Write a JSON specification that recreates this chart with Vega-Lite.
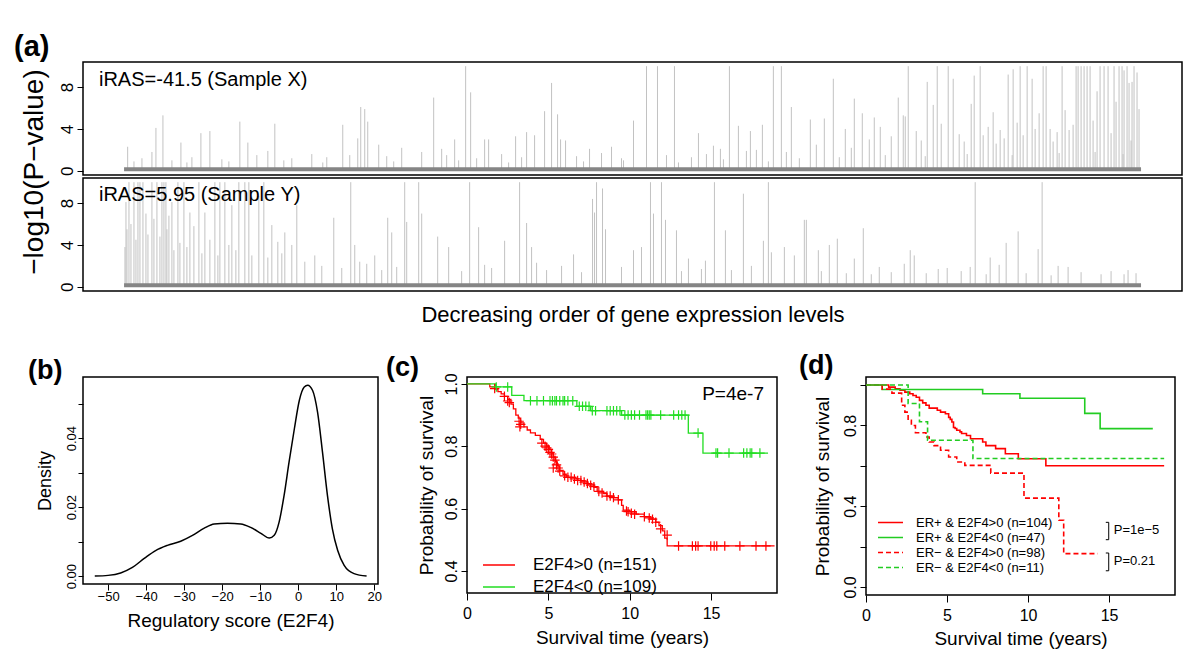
{
"$schema": "https://vega.github.io/schema/vega-lite/v6.json",
"padding": {"left": 13, "top": 32, "right": 0, "bottom": 0},
"bounds": "flush",
"spacing": 3,
"config": {
  "font": "Liberation Sans",
  "view": {"stroke": "#000", "strokeWidth": 1.5},
  "axis": {"domain": false, "grid": false, "tickColor": "#000", "tickWidth": 1, "labelColor": "#000", "titleColor": "#000", "titleFontWeight": "normal", "labelFlush": false, "labelOverlap": false, "labelFont": "Liberation Sans", "titleFont": "Liberation Sans"},
  "legend": {"labelColor": "#000", "labelFont": "Liberation Sans", "labelLimit": 0},
  "title": {"color": "#000", "font": "Liberation Sans"},
  "text": {"font": "Liberation Sans", "color": "#000"}
},
"datasets": {
  "spikesX": [
{"rank":37,"logp":2.3},{"rank":100,"logp":0.9},{"rank":180,"logp":1.2},{"rank":280,"logp":1.8},{"rank":320,"logp":4.1},{"rank":390,"logp":5.3},{"rank":480,"logp":1.0},{"rank":570,"logp":2.7},{"rank":630,"logp":0.8},{"rank":680,"logp":1.3},{"rank":770,"logp":3.6},{"rank":860,"logp":3.8},{"rank":980,"logp":1.1},{"rank":1050,"logp":0.9},{"rank":1160,"logp":4.7},{"rank":1240,"logp":2.7},{"rank":1330,"logp":1.5},{"rank":1440,"logp":1.9},{"rank":1510,"logp":4.5},{"rank":1600,"logp":1.0},{"rank":1680,"logp":1.2},{"rank":1880,"logp":1.6},{"rank":1990,"logp":0.8},{"rank":2030,"logp":1.3},{"rank":2190,"logp":4.4},{"rank":2260,"logp":1.5},{"rank":2340,"logp":3.1},{"rank":2370,"logp":6.1},{"rank":2410,"logp":5.9},{"rank":2440,"logp":4.7},{"rank":2550,"logp":2.5},{"rank":2630,"logp":1.4},{"rank":2700,"logp":0.9},{"rank":2780,"logp":2.2},{"rank":2980,"logp":1.8},{"rank":3100,"logp":7.0},{"rank":3180,"logp":2.1},{"rank":3230,"logp":1.5},{"rank":3310,"logp":3.0},{"rank":3350,"logp":1.0},{"rank":3420,"logp":10},{"rank":3470,"logp":7.5},{"rank":3530,"logp":1.2},{"rank":3610,"logp":3.0},{"rank":3650,"logp":3.0},{"rank":3780,"logp":1.6},{"rank":3850,"logp":0.8},{"rank":3920,"logp":3.3},{"rank":3980,"logp":1.3},{"rank":4030,"logp":3.7},{"rank":4110,"logp":3.4},{"rank":4210,"logp":5.7},{"rank":4280,"logp":8.4},{"rank":4340,"logp":5.4},{"rank":4370,"logp":3.0},{"rank":4420,"logp":2.9},{"rank":4530,"logp":1.4},{"rank":4600,"logp":0.9},{"rank":4660,"logp":2.1},{"rank":4780,"logp":1.7},{"rank":4880,"logp":2.3},{"rank":4980,"logp":1.2},{"rank":5000,"logp":1.0},{"rank":5100,"logp":4.8},{"rank":5230,"logp":10},{"rank":5340,"logp":10},{"rank":5430,"logp":1.5},{"rank":5510,"logp":10},{"rank":5550,"logp":0.8},{"rank":5680,"logp":1.3},{"rank":5750,"logp":3.6},{"rank":5830,"logp":1.6},{"rank":5900,"logp":2.4},{"rank":5970,"logp":2.1},{"rank":6000,"logp":1.1},{"rank":6060,"logp":10},{"rank":6150,"logp":4.3},{"rank":6230,"logp":1.9},{"rank":6270,"logp":3.8},{"rank":6330,"logp":2.0},{"rank":6390,"logp":4.4},{"rank":6450,"logp":0.9},{"rank":6500,"logp":10},{"rank":6580,"logp":10},{"rank":6630,"logp":1.8},{"rank":6680,"logp":6.1},{"rank":6760,"logp":1.2},{"rank":6870,"logp":4.9},{"rank":6930,"logp":2.5},{"rank":7010,"logp":5.0},{"rank":7100,"logp":8.8},{"rank":7160,"logp":1.3},{"rank":7220,"logp":4.0},{"rank":7280,"logp":2.2},{"rank":7310,"logp":6.9},{"rank":7390,"logp":5.5},{"rank":7460,"logp":3.0},{"rank":7510,"logp":5.1},{"rank":7570,"logp":4.2},{"rank":7620,"logp":1.5},{"rank":7680,"logp":3.3},{"rank":7750,"logp":7.0},{"rank":7800,"logp":5.3},{"rank":7820,"logp":5.2},{"rank":7850,"logp":10},{"rank":7930,"logp":3.8},{"rank":7980,"logp":2.9},{"rank":8020,"logp":1.4},{"rank":8040,"logp":8.5},{"rank":8100,"logp":6.3},{"rank":8140,"logp":10},{"rank":8180,"logp":4.5},{"rank":8250,"logp":10},{"rank":8300,"logp":8.8},{"rank":8360,"logp":3.5},{"rank":8410,"logp":2.8},{"rank":8440,"logp":1.6},{"rank":8480,"logp":6.4},{"rank":8510,"logp":9.1},{"rank":8570,"logp":10},{"rank":8600,"logp":3.4},{"rank":8650,"logp":4.2},{"rank":8700,"logp":5.6},{"rank":8730,"logp":2.6},{"rank":8770,"logp":3.9},{"rank":8810,"logp":3.1},{"rank":8850,"logp":9.2},{"rank":8890,"logp":1.5},{"rank":8900,"logp":9.7},{"rank":8940,"logp":4.6},{"rank":8970,"logp":10},{"rank":9000,"logp":3.4},{"rank":9040,"logp":10},{"rank":9090,"logp":8.8},{"rank":9120,"logp":4.0},{"rank":9160,"logp":5.5},{"rank":9200,"logp":10},{"rank":9230,"logp":10},{"rank":9270,"logp":4.0},{"rank":9300,"logp":2.8},{"rank":9340,"logp":3.7},{"rank":9360,"logp":1.7},{"rank":9390,"logp":10},{"rank":9420,"logp":5.8},{"rank":9460,"logp":3.9},{"rank":9500,"logp":4.4},{"rank":9530,"logp":10},{"rank":9550,"logp":10},{"rank":9580,"logp":10},{"rank":9610,"logp":10},{"rank":9640,"logp":10},{"rank":9670,"logp":10},{"rank":9700,"logp":4.8},{"rank":9720,"logp":1.8},{"rank":9740,"logp":7.6},{"rank":9770,"logp":10},{"rank":9810,"logp":10},{"rank":9850,"logp":10},{"rank":9880,"logp":3.6},{"rank":9910,"logp":10},{"rank":9930,"logp":6.6},{"rank":9960,"logp":10},{"rank":9990,"logp":10},{"rank":10000,"logp":1.6},{"rank":10010,"logp":9.6},{"rank":10040,"logp":10},{"rank":10060,"logp":8.4},{"rank":10080,"logp":2.9},{"rank":10090,"logp":8.5},{"rank":10110,"logp":10},{"rank":10140,"logp":9.4},{"rank":10160,"logp":5.9}
  ],
  "spikesY": [
{"rank":10,"logp":3.8},{"rank":20,"logp":8.1},{"rank":30,"logp":5.5},{"rank":50,"logp":10},{"rank":70,"logp":6.0},{"rank":100,"logp":10},{"rank":120,"logp":4.5},{"rank":140,"logp":10},{"rank":160,"logp":10},{"rank":190,"logp":10},{"rank":220,"logp":7.0},{"rank":240,"logp":5.0},{"rank":280,"logp":10},{"rank":300,"logp":6.5},{"rank":330,"logp":10},{"rank":360,"logp":4.8},{"rank":380,"logp":10},{"rank":400,"logp":10},{"rank":420,"logp":10},{"rank":430,"logp":5.5},{"rank":450,"logp":6.8},{"rank":480,"logp":8.1},{"rank":500,"logp":3.5},{"rank":540,"logp":10},{"rank":560,"logp":4.2},{"rank":600,"logp":10},{"rank":630,"logp":3.8},{"rank":660,"logp":7.1},{"rank":700,"logp":5.8},{"rank":750,"logp":10},{"rank":780,"logp":3.2},{"rank":810,"logp":7.1},{"rank":860,"logp":4.5},{"rank":910,"logp":10},{"rank":940,"logp":3.0},{"rank":960,"logp":10},{"rank":1010,"logp":10},{"rank":1050,"logp":4.0},{"rank":1080,"logp":7.8},{"rank":1120,"logp":3.5},{"rank":1150,"logp":10},{"rank":1210,"logp":10},{"rank":1250,"logp":10},{"rank":1280,"logp":3.0},{"rank":1350,"logp":8.7},{"rank":1400,"logp":10},{"rank":1440,"logp":2.8},{"rank":1480,"logp":5.9},{"rank":1540,"logp":4.3},{"rank":1580,"logp":3.2},{"rank":1610,"logp":5.2},{"rank":1680,"logp":4.0},{"rank":1730,"logp":7.8},{"rank":1810,"logp":2.4},{"rank":1910,"logp":3.0},{"rank":1980,"logp":2.0},{"rank":2100,"logp":6.6},{"rank":2180,"logp":1.8},{"rank":2270,"logp":10},{"rank":2310,"logp":4.0},{"rank":2360,"logp":2.4},{"rank":2430,"logp":2.2},{"rank":2510,"logp":3.0},{"rank":2580,"logp":1.6},{"rank":2640,"logp":6.6},{"rank":2680,"logp":5.2},{"rank":2730,"logp":1.9},{"rank":2810,"logp":10},{"rank":2830,"logp":6.2},{"rank":2950,"logp":10},{"rank":2980,"logp":7.0},{"rank":3140,"logp":4.8},{"rank":3250,"logp":3.8},{"rank":3380,"logp":1.5},{"rank":3460,"logp":10},{"rank":3550,"logp":5.7},{"rank":3610,"logp":2.1},{"rank":3680,"logp":1.8},{"rank":3810,"logp":4.4},{"rank":3960,"logp":10},{"rank":4030,"logp":6.1},{"rank":4080,"logp":3.8},{"rank":4130,"logp":2.3},{"rank":4230,"logp":1.6},{"rank":4380,"logp":2.0},{"rank":4500,"logp":3.1},{"rank":4580,"logp":1.4},{"rank":4690,"logp":8.4},{"rank":4710,"logp":7.1},{"rank":4730,"logp":10},{"rank":4790,"logp":9.4},{"rank":4820,"logp":5.5},{"rank":4980,"logp":1.9},{"rank":5100,"logp":3.5},{"rank":5180,"logp":3.8},{"rank":5270,"logp":10},{"rank":5300,"logp":7.0},{"rank":5380,"logp":10},{"rank":5420,"logp":6.4},{"rank":5530,"logp":5.4},{"rank":5580,"logp":1.5},{"rank":5650,"logp":2.7},{"rank":5780,"logp":1.7},{"rank":5820,"logp":2.5},{"rank":5910,"logp":10},{"rank":6020,"logp":5.4},{"rank":6080,"logp":1.6},{"rank":6200,"logp":8.9},{"rank":6280,"logp":2.0},{"rank":6400,"logp":4.4},{"rank":6450,"logp":10},{"rank":6480,"logp":3.3},{"rank":6610,"logp":3.8},{"rank":6710,"logp":3.0},{"rank":6810,"logp":6.4},{"rank":6830,"logp":6.4},{"rank":6950,"logp":3.5},{"rank":6980,"logp":1.5},{"rank":7060,"logp":4.0},{"rank":7140,"logp":4.6},{"rank":7230,"logp":1.3},{"rank":7310,"logp":2.7},{"rank":7400,"logp":5.6},{"rank":7480,"logp":1.2},{"rank":7560,"logp":1.9},{"rank":7680,"logp":1.4},{"rank":7810,"logp":2.2},{"rank":7870,"logp":3.5},{"rank":7910,"logp":3.0},{"rank":8030,"logp":1.3},{"rank":8150,"logp":1.7},{"rank":8240,"logp":1.8},{"rank":8380,"logp":1.5},{"rank":8470,"logp":1.9},{"rank":8520,"logp":10},{"rank":8630,"logp":1.2},{"rank":8670,"logp":2.8},{"rank":8760,"logp":2.1},{"rank":8830,"logp":4.2},{"rank":8950,"logp":5.3},{"rank":9030,"logp":1.3},{"rank":9150,"logp":3.6},{"rank":9190,"logp":10},{"rank":9280,"logp":1.1},{"rank":9350,"logp":2.0},{"rank":9450,"logp":1.9},{"rank":9580,"logp":1.4},{"rank":9780,"logp":1.2},{"rank":9880,"logp":1.5},{"rank":10010,"logp":1.2},{"rank":10050,"logp":1.6},{"rank":10130,"logp":1.3}
  ],
  "density": [
{"score":-53.5,"density":0},{"score":-50,"density":0.0002},{"score":-46.7,"density":0.0009},{"score":-43.6,"density":0.0025},{"score":-40.4,"density":0.0052},{"score":-37.5,"density":0.0074},{"score":-34.4,"density":0.0089},{"score":-30.9,"density":0.0101},{"score":-27.8,"density":0.0118},{"score":-24.7,"density":0.0139},{"score":-22.1,"density":0.0151},{"score":-18.6,"density":0.0153},{"score":-15.1,"density":0.0151},{"score":-12.5,"density":0.0141},{"score":-9.8,"density":0.0124},{"score":-7.6,"density":0.011},{"score":-6.3,"density":0.0118},{"score":-5.0,"density":0.0157},{"score":-3.7,"density":0.0234},{"score":-2.4,"density":0.033},{"score":-1.0,"density":0.0427},{"score":0.3,"density":0.0509},{"score":1.6,"density":0.0548},{"score":2.5,"density":0.0553},{"score":3.8,"density":0.0538},{"score":5.1,"density":0.0475},{"score":6.4,"density":0.0359},{"score":7.7,"density":0.0234},{"score":9.0,"density":0.0137},{"score":10.4,"density":0.0074},{"score":12.1,"density":0.0031},{"score":14.7,"density":0.0007},{"score":18.0,"density":0}
  ],
  "kmC": [
{"g":"E2F4>0 (n=151)","t":0,"s":1},{"g":"E2F4>0 (n=151)","t":1.1,"s":1},{"g":"E2F4>0 (n=151)","t":1.4,"s":0.99},{"g":"E2F4>0 (n=151)","t":1.7,"s":0.983},{"g":"E2F4>0 (n=151)","t":1.9,"s":0.975},{"g":"E2F4>0 (n=151)","t":2.1,"s":0.968},{"g":"E2F4>0 (n=151)","t":2.3,"s":0.96},{"g":"E2F4>0 (n=151)","t":2.5,"s":0.95},{"g":"E2F4>0 (n=151)","t":2.7,"s":0.935},{"g":"E2F4>0 (n=151)","t":2.85,"s":0.92},{"g":"E2F4>0 (n=151)","t":3.0,"s":0.9},{"g":"E2F4>0 (n=151)","t":3.15,"s":0.89},{"g":"E2F4>0 (n=151)","t":3.3,"s":0.875},{"g":"E2F4>0 (n=151)","t":3.5,"s":0.862},{"g":"E2F4>0 (n=151)","t":3.7,"s":0.852},{"g":"E2F4>0 (n=151)","t":3.9,"s":0.843},{"g":"E2F4>0 (n=151)","t":4.2,"s":0.835},{"g":"E2F4>0 (n=151)","t":4.5,"s":0.822},{"g":"E2F4>0 (n=151)","t":4.7,"s":0.81},{"g":"E2F4>0 (n=151)","t":4.9,"s":0.8},{"g":"E2F4>0 (n=151)","t":5.05,"s":0.79},{"g":"E2F4>0 (n=151)","t":5.2,"s":0.778},{"g":"E2F4>0 (n=151)","t":5.3,"s":0.765},{"g":"E2F4>0 (n=151)","t":5.45,"s":0.75},{"g":"E2F4>0 (n=151)","t":5.55,"s":0.737},{"g":"E2F4>0 (n=151)","t":5.7,"s":0.722},{"g":"E2F4>0 (n=151)","t":5.9,"s":0.71},{"g":"E2F4>0 (n=151)","t":6.1,"s":0.7},{"g":"E2F4>0 (n=151)","t":6.7,"s":0.695},{"g":"E2F4>0 (n=151)","t":7.0,"s":0.688},{"g":"E2F4>0 (n=151)","t":7.4,"s":0.678},{"g":"E2F4>0 (n=151)","t":7.8,"s":0.668},{"g":"E2F4>0 (n=151)","t":8.0,"s":0.655},{"g":"E2F4>0 (n=151)","t":8.4,"s":0.648},{"g":"E2F4>0 (n=151)","t":8.6,"s":0.64},{"g":"E2F4>0 (n=151)","t":9.0,"s":0.635},{"g":"E2F4>0 (n=151)","t":9.3,"s":0.628},{"g":"E2F4>0 (n=151)","t":9.5,"s":0.61},{"g":"E2F4>0 (n=151)","t":9.6,"s":0.595},{"g":"E2F4>0 (n=151)","t":10.0,"s":0.59},{"g":"E2F4>0 (n=151)","t":10.4,"s":0.582},{"g":"E2F4>0 (n=151)","t":10.9,"s":0.574},{"g":"E2F4>0 (n=151)","t":11.3,"s":0.566},{"g":"E2F4>0 (n=151)","t":11.6,"s":0.556},{"g":"E2F4>0 (n=151)","t":11.8,"s":0.545},{"g":"E2F4>0 (n=151)","t":12.0,"s":0.528},{"g":"E2F4>0 (n=151)","t":12.15,"s":0.505},{"g":"E2F4>0 (n=151)","t":12.3,"s":0.48},{"g":"E2F4>0 (n=151)","t":18.9,"s":0.48},
{"g":"E2F4<0 (n=109)","t":0,"s":1},{"g":"E2F4<0 (n=109)","t":1.75,"s":0.99},{"g":"E2F4<0 (n=109)","t":2.75,"s":0.963},{"g":"E2F4<0 (n=109)","t":3.5,"s":0.946},{"g":"E2F4<0 (n=109)","t":6.75,"s":0.928},{"g":"E2F4<0 (n=109)","t":7.6,"s":0.914},{"g":"E2F4<0 (n=109)","t":9.5,"s":0.9},{"g":"E2F4<0 (n=109)","t":13.6,"s":0.842},{"g":"E2F4<0 (n=109)","t":14.5,"s":0.778},{"g":"E2F4<0 (n=109)","t":18.5,"s":0.778}
  ],
  "censC": [
{"g":"E2F4>0 (n=151)","t":1.7,"s":0.985},{"g":"E2F4>0 (n=151)","t":2.3,"s":0.96},{"g":"E2F4>0 (n=151)","t":2.5,"s":0.945},{"g":"E2F4>0 (n=151)","t":2.6,"s":0.94},{"g":"E2F4>0 (n=151)","t":3.2,"s":0.88},{"g":"E2F4>0 (n=151)","t":3.3,"s":0.87},{"g":"E2F4>0 (n=151)","t":3.25,"s":0.862},{"g":"E2F4>0 (n=151)","t":4.6,"s":0.81},{"g":"E2F4>0 (n=151)","t":4.8,"s":0.8},{"g":"E2F4>0 (n=151)","t":4.9,"s":0.795},{"g":"E2F4>0 (n=151)","t":5.0,"s":0.79},{"g":"E2F4>0 (n=151)","t":5.1,"s":0.78},{"g":"E2F4>0 (n=151)","t":5.2,"s":0.775},{"g":"E2F4>0 (n=151)","t":5.3,"s":0.765},{"g":"E2F4>0 (n=151)","t":5.4,"s":0.755},{"g":"E2F4>0 (n=151)","t":5.5,"s":0.74},{"g":"E2F4>0 (n=151)","t":5.6,"s":0.73},{"g":"E2F4>0 (n=151)","t":5.7,"s":0.72},{"g":"E2F4>0 (n=151)","t":5.3,"s":0.73},{"g":"E2F4>0 (n=151)","t":6.0,"s":0.705},{"g":"E2F4>0 (n=151)","t":6.2,"s":0.7},{"g":"E2F4>0 (n=151)","t":6.4,"s":0.7},{"g":"E2F4>0 (n=151)","t":6.6,"s":0.695},{"g":"E2F4>0 (n=151)","t":6.8,"s":0.69},{"g":"E2F4>0 (n=151)","t":7.0,"s":0.69},{"g":"E2F4>0 (n=151)","t":7.2,"s":0.685},{"g":"E2F4>0 (n=151)","t":7.4,"s":0.68},{"g":"E2F4>0 (n=151)","t":7.6,"s":0.675},{"g":"E2F4>0 (n=151)","t":7.8,"s":0.67},{"g":"E2F4>0 (n=151)","t":8.1,"s":0.655},{"g":"E2F4>0 (n=151)","t":8.3,"s":0.65},{"g":"E2F4>0 (n=151)","t":8.6,"s":0.64},{"g":"E2F4>0 (n=151)","t":8.8,"s":0.64},{"g":"E2F4>0 (n=151)","t":9.0,"s":0.635},{"g":"E2F4>0 (n=151)","t":9.3,"s":0.628},{"g":"E2F4>0 (n=151)","t":9.8,"s":0.592},{"g":"E2F4>0 (n=151)","t":9.9,"s":0.59},{"g":"E2F4>0 (n=151)","t":10.1,"s":0.585},{"g":"E2F4>0 (n=151)","t":10.3,"s":0.582},{"g":"E2F4>0 (n=151)","t":10.9,"s":0.574},{"g":"E2F4>0 (n=151)","t":11.2,"s":0.57},{"g":"E2F4>0 (n=151)","t":11.4,"s":0.566},{"g":"E2F4>0 (n=151)","t":11.6,"s":0.556},{"g":"E2F4>0 (n=151)","t":11.9,"s":0.535},{"g":"E2F4>0 (n=151)","t":12.3,"s":0.515},{"g":"E2F4>0 (n=151)","t":13.0,"s":0.48},{"g":"E2F4>0 (n=151)","t":13.85,"s":0.48},{"g":"E2F4>0 (n=151)","t":14.05,"s":0.48},{"g":"E2F4>0 (n=151)","t":14.2,"s":0.48},{"g":"E2F4>0 (n=151)","t":14.98,"s":0.48},{"g":"E2F4>0 (n=151)","t":15.19,"s":0.48},{"g":"E2F4>0 (n=151)","t":15.35,"s":0.48},{"g":"E2F4>0 (n=151)","t":15.84,"s":0.48},{"g":"E2F4>0 (n=151)","t":16.77,"s":0.48},{"g":"E2F4>0 (n=151)","t":17.76,"s":0.48},{"g":"E2F4>0 (n=151)","t":18.37,"s":0.48},
{"g":"E2F4<0 (n=109)","t":1.8,"s":0.99},{"g":"E2F4<0 (n=109)","t":2.5,"s":0.99},{"g":"E2F4<0 (n=109)","t":3.9,"s":0.946},{"g":"E2F4<0 (n=109)","t":4.3,"s":0.946},{"g":"E2F4<0 (n=109)","t":4.7,"s":0.946},{"g":"E2F4<0 (n=109)","t":5.1,"s":0.946},{"g":"E2F4<0 (n=109)","t":5.25,"s":0.946},{"g":"E2F4<0 (n=109)","t":5.4,"s":0.946},{"g":"E2F4<0 (n=109)","t":5.5,"s":0.946},{"g":"E2F4<0 (n=109)","t":5.7,"s":0.946},{"g":"E2F4<0 (n=109)","t":5.9,"s":0.946},{"g":"E2F4<0 (n=109)","t":6.0,"s":0.946},{"g":"E2F4<0 (n=109)","t":6.2,"s":0.946},{"g":"E2F4<0 (n=109)","t":6.5,"s":0.946},{"g":"E2F4<0 (n=109)","t":6.9,"s":0.928},{"g":"E2F4<0 (n=109)","t":7.1,"s":0.928},{"g":"E2F4<0 (n=109)","t":7.3,"s":0.928},{"g":"E2F4<0 (n=109)","t":7.5,"s":0.928},{"g":"E2F4<0 (n=109)","t":7.7,"s":0.914},{"g":"E2F4<0 (n=109)","t":7.9,"s":0.914},{"g":"E2F4<0 (n=109)","t":8.6,"s":0.914},{"g":"E2F4<0 (n=109)","t":8.8,"s":0.914},{"g":"E2F4<0 (n=109)","t":9.0,"s":0.914},{"g":"E2F4<0 (n=109)","t":9.2,"s":0.914},{"g":"E2F4<0 (n=109)","t":9.4,"s":0.914},{"g":"E2F4<0 (n=109)","t":9.7,"s":0.9},{"g":"E2F4<0 (n=109)","t":9.9,"s":0.9},{"g":"E2F4<0 (n=109)","t":10.1,"s":0.9},{"g":"E2F4<0 (n=109)","t":10.3,"s":0.9},{"g":"E2F4<0 (n=109)","t":10.6,"s":0.9},{"g":"E2F4<0 (n=109)","t":11.0,"s":0.9},{"g":"E2F4<0 (n=109)","t":11.1,"s":0.9},{"g":"E2F4<0 (n=109)","t":11.2,"s":0.9},{"g":"E2F4<0 (n=109)","t":11.3,"s":0.9},{"g":"E2F4<0 (n=109)","t":11.9,"s":0.9},{"g":"E2F4<0 (n=109)","t":12.7,"s":0.9},{"g":"E2F4<0 (n=109)","t":13.0,"s":0.9},{"g":"E2F4<0 (n=109)","t":13.2,"s":0.9},{"g":"E2F4<0 (n=109)","t":13.4,"s":0.9},{"g":"E2F4<0 (n=109)","t":14.2,"s":0.842},{"g":"E2F4<0 (n=109)","t":15.3,"s":0.778},{"g":"E2F4<0 (n=109)","t":15.4,"s":0.778},{"g":"E2F4<0 (n=109)","t":16.1,"s":0.778},{"g":"E2F4<0 (n=109)","t":17.0,"s":0.778},{"g":"E2F4<0 (n=109)","t":17.2,"s":0.778},{"g":"E2F4<0 (n=109)","t":17.4,"s":0.778},{"g":"E2F4<0 (n=109)","t":17.5,"s":0.778},{"g":"E2F4<0 (n=109)","t":18.0,"s":0.778}
  ],
  "kmD": [
{"g":"ER+ & E2F4>0 (n=104)","t":0,"s":1},{"g":"ER+ & E2F4>0 (n=104)","t":1.4,"s":0.99},{"g":"ER+ & E2F4>0 (n=104)","t":1.8,"s":0.982},{"g":"ER+ & E2F4>0 (n=104)","t":2.1,"s":0.974},{"g":"ER+ & E2F4>0 (n=104)","t":2.4,"s":0.965},{"g":"ER+ & E2F4>0 (n=104)","t":2.7,"s":0.957},{"g":"ER+ & E2F4>0 (n=104)","t":2.9,"s":0.948},{"g":"ER+ & E2F4>0 (n=104)","t":3.1,"s":0.94},{"g":"ER+ & E2F4>0 (n=104)","t":3.3,"s":0.924},{"g":"ER+ & E2F4>0 (n=104)","t":3.5,"s":0.912},{"g":"ER+ & E2F4>0 (n=104)","t":3.7,"s":0.9},{"g":"ER+ & E2F4>0 (n=104)","t":3.9,"s":0.886},{"g":"ER+ & E2F4>0 (n=104)","t":4.4,"s":0.875},{"g":"ER+ & E2F4>0 (n=104)","t":4.6,"s":0.866},{"g":"ER+ & E2F4>0 (n=104)","t":4.9,"s":0.858},{"g":"ER+ & E2F4>0 (n=104)","t":5.1,"s":0.84},{"g":"ER+ & E2F4>0 (n=104)","t":5.2,"s":0.83},{"g":"ER+ & E2F4>0 (n=104)","t":5.3,"s":0.817},{"g":"ER+ & E2F4>0 (n=104)","t":5.4,"s":0.79},{"g":"ER+ & E2F4>0 (n=104)","t":5.5,"s":0.785},{"g":"ER+ & E2F4>0 (n=104)","t":5.6,"s":0.776},{"g":"ER+ & E2F4>0 (n=104)","t":5.8,"s":0.768},{"g":"ER+ & E2F4>0 (n=104)","t":5.9,"s":0.76},{"g":"ER+ & E2F4>0 (n=104)","t":6.2,"s":0.75},{"g":"ER+ & E2F4>0 (n=104)","t":6.45,"s":0.734},{"g":"ER+ & E2F4>0 (n=104)","t":7.2,"s":0.718},{"g":"ER+ & E2F4>0 (n=104)","t":7.4,"s":0.7},{"g":"ER+ & E2F4>0 (n=104)","t":8.0,"s":0.685},{"g":"ER+ & E2F4>0 (n=104)","t":8.6,"s":0.66},{"g":"ER+ & E2F4>0 (n=104)","t":9.4,"s":0.635},{"g":"ER+ & E2F4>0 (n=104)","t":11.1,"s":0.6},{"g":"ER+ & E2F4>0 (n=104)","t":18.4,"s":0.6},
{"g":"ER+ & E2F4<0 (n=47)","t":0,"s":1},{"g":"ER+ & E2F4<0 (n=47)","t":1.0,"s":0.978},{"g":"ER+ & E2F4<0 (n=47)","t":7.2,"s":0.957},{"g":"ER+ & E2F4<0 (n=47)","t":9.5,"s":0.935},{"g":"ER+ & E2F4<0 (n=47)","t":13.5,"s":0.86},{"g":"ER+ & E2F4<0 (n=47)","t":14.45,"s":0.784},{"g":"ER+ & E2F4<0 (n=47)","t":17.7,"s":0.784},
{"g":"ER− & E2F4>0 (n=98)","t":0,"s":1},{"g":"ER− & E2F4>0 (n=98)","t":1.0,"s":0.98},{"g":"ER− & E2F4>0 (n=98)","t":1.6,"s":0.96},{"g":"ER− & E2F4>0 (n=98)","t":2.2,"s":0.9},{"g":"ER− & E2F4>0 (n=98)","t":2.4,"s":0.866},{"g":"ER− & E2F4>0 (n=98)","t":2.6,"s":0.825},{"g":"ER− & E2F4>0 (n=98)","t":2.8,"s":0.8},{"g":"ER− & E2F4>0 (n=98)","t":3.05,"s":0.764},{"g":"ER− & E2F4>0 (n=98)","t":3.7,"s":0.743},{"g":"ER− & E2F4>0 (n=98)","t":3.9,"s":0.718},{"g":"ER− & E2F4>0 (n=98)","t":4.2,"s":0.7},{"g":"ER− & E2F4>0 (n=98)","t":4.6,"s":0.677},{"g":"ER− & E2F4>0 (n=98)","t":5.1,"s":0.644},{"g":"ER− & E2F4>0 (n=98)","t":5.6,"s":0.619},{"g":"ER− & E2F4>0 (n=98)","t":6.1,"s":0.602},{"g":"ER− & E2F4>0 (n=98)","t":7.7,"s":0.564},{"g":"ER− & E2F4>0 (n=98)","t":9.75,"s":0.44},{"g":"ER− & E2F4>0 (n=98)","t":11.9,"s":0.33},{"g":"ER− & E2F4>0 (n=98)","t":12.2,"s":0.165},{"g":"ER− & E2F4>0 (n=98)","t":14.3,"s":0.165},
{"g":"ER− & E2F4<0 (n=11)","t":0,"s":1},{"g":"ER− & E2F4<0 (n=11)","t":2.6,"s":0.909},{"g":"ER− & E2F4<0 (n=11)","t":3.3,"s":0.818},{"g":"ER− & E2F4<0 (n=11)","t":3.8,"s":0.727},{"g":"ER− & E2F4<0 (n=11)","t":6.6,"s":0.636},{"g":"ER− & E2F4<0 (n=11)","t":18.4,"s":0.636}
  ]
},
"vconcat": [
  {
    "width": 1099, "height": 113,
    "title": {"text": "(a)", "anchor": "start", "frame": "group", "dx": -69, "offset": -23, "fontSize": 29, "fontWeight": "bold", "baseline": "alphabetic"},
    "layer": [
      {"data": {"name": "spikesX"}, "mark": {"type": "rule", "color": "#c2c2c2", "strokeWidth": 1},
       "encoding": {
         "x": {"field": "rank", "type": "quantitative", "scale": {"domain": [-410, 10590], "nice": false, "zero": false}, "axis": null},
         "y": {"field": "logp", "type": "quantitative", "scale": {"domain": [-0.4, 10.4], "nice": false, "zero": false},
               "axis": {"values": [0, 2, 4, 6, 8, 10], "labelExpr": "datum.value % 4 === 0 ? datum.label : ''", "title": null, "labelAngle": 270, "labelAlign": "center", "labelBaseline": "bottom", "labelFontSize": 17, "labelPadding": 1, "tickSize": 6}},
         "y2": {"datum": 0}}},
      {"data": {"values": [{"first": 1, "last": 10180, "low": -0.05, "high": 0.35}]}, "mark": {"type": "rect", "color": "#858585"},
       "encoding": {"x": {"field": "first", "type": "quantitative", "axis": null}, "x2": {"field": "last"}, "y": {"field": "low", "type": "quantitative"}, "y2": {"field": "high"}}},
      {"data": {"values": [{}]}, "mark": {"type": "text", "align": "left", "baseline": "alphabetic", "fontSize": 20},
       "encoding": {"x": {"datum": -250, "axis": null}, "y": {"datum": 8.15}, "text": {"value": "iRAS=-41.5 (Sample X)"}}}
    ]
  },
  {
    "bounds": "flush",
    "spacing": 86,
    "vconcat": [
      {
        "width": 1099, "height": 113,
        "layer": [
          {"data": {"name": "spikesY"}, "mark": {"type": "rule", "color": "#c2c2c2", "strokeWidth": 1},
           "encoding": {
             "x": {"field": "rank", "type": "quantitative", "scale": {"domain": [-410, 10590], "nice": false, "zero": false},
                   "axis": {"title": "Decreasing order of gene expression levels", "labels": false, "ticks": false, "domain": false, "titleFontSize": 22, "titlePadding": 13, "minExtent": 0, "maxExtent": 0}},
             "y": {"field": "logp", "type": "quantitative", "scale": {"domain": [-0.4, 10.4], "nice": false, "zero": false},
                   "axis": {"values": [0, 2, 4, 6, 8, 10], "labelExpr": "datum.value % 4 === 0 ? datum.label : ''", "title": "−log10(P−value)", "titleFontSize": 28, "titleX": -35, "titleY": -6.5, "titleAngle": 270, "titleAlign": "center", "titleBaseline": "bottom", "labelAngle": 270, "labelAlign": "center", "labelBaseline": "bottom", "labelFontSize": 17, "labelPadding": 1, "tickSize": 6}},
             "y2": {"datum": 0}}},
          {"data": {"values": [{"first": 1, "last": 10180, "low": -0.05, "high": 0.35}]}, "mark": {"type": "rect", "color": "#858585"},
           "encoding": {"x": {"field": "first", "type": "quantitative"}, "x2": {"field": "last"}, "y": {"field": "low", "type": "quantitative"}, "y2": {"field": "high"}}},
          {"data": {"values": [{}]}, "mark": {"type": "text", "align": "left", "baseline": "alphabetic", "fontSize": 20},
           "encoding": {"x": {"datum": -250}, "y": {"datum": 8.2}, "text": {"value": "iRAS=5.95 (Sample Y)"}}}
        ]
      },
      {
        "bounds": "flush",
        "spacing": 89,
        "resolve": {"scale": {"color": "independent", "strokeDash": "independent", "stroke": "independent"}, "legend": {"color": "independent", "strokeDash": "independent", "stroke": "independent"}},
        "hconcat": [
          {
            "width": 295, "height": 207,
            "title": {"text": "(b)", "anchor": "start", "frame": "group", "dx": -55, "offset": -29, "fontSize": 27, "fontWeight": "bold", "baseline": "alphabetic"},
            "data": {"name": "density"},
            "mark": {"type": "line", "color": "#000", "strokeWidth": 1.5, "interpolate": "monotone"},
            "encoding": {
              "x": {"field": "score", "type": "quantitative", "scale": {"domain": [-56.6, 21], "nice": false, "zero": false},
                    "axis": {"values": [-50, -40, -30, -20, -10, 0, 10, 20], "title": "Regulatory score (E2F4)", "labelFontSize": 13, "tickSize": 6, "labelPadding": 0, "titleFontSize": 19, "titlePadding": 7, "minExtent": 20, "maxExtent": 20}},
              "y": {"field": "density", "type": "quantitative", "scale": {"domain": [-0.0023, 0.0577], "nice": false, "zero": false},
                    "axis": {"values": [0, 0.01, 0.02, 0.03, 0.04, 0.05], "labelExpr": "round(datum.value*100) % 2 === 0 ? format(datum.value, '.2f') : ''", "title": "Density", "titleFontSize": 18, "titleX": -29, "titleAngle": 270, "titleAlign": "center", "titleBaseline": "bottom", "labelAngle": 270, "labelAlign": "center", "labelBaseline": "bottom", "labelFontSize": 13, "labelPadding": 0, "tickSize": 5}}
            }
          },
          {
            "width": 310, "height": 216,
            "title": {"text": "(c)", "anchor": "start", "frame": "group", "dx": -81, "offset": -30, "fontSize": 27, "fontWeight": "bold", "baseline": "alphabetic"},
            "layer": [
              {"data": {"name": "kmC"}, "mark": {"type": "line", "strokeWidth": 1.3, "interpolate": "step-after"},
               "encoding": {
                 "x": {"field": "t", "type": "quantitative", "scale": {"domain": [0, 19.05], "nice": false, "zero": false},
                       "axis": {"values": [0, 5, 10, 15], "title": "Survival time (years)", "labelFontSize": 16, "tickSize": 7, "labelPadding": 5, "titleFontSize": 19, "titlePadding": 7, "minExtent": 28, "maxExtent": 28}},
                 "y": {"field": "s", "type": "quantitative", "scale": {"domain": [0.329, 1.022], "nice": false, "zero": false},
                       "axis": {"values": [0.4, 0.5, 0.6, 0.7, 0.8, 0.9, 1.0], "labelExpr": "round(datum.value*10) % 2 === 0 ? format(datum.value, '.1f') : ''", "title": "Probability of survival", "titleFontSize": 19, "titleX": -31, "titleAngle": 270, "titleAlign": "center", "titleBaseline": "bottom", "labelAngle": 270, "labelAlign": "center", "labelBaseline": "bottom", "labelFontSize": 16, "labelPadding": 2, "tickSize": 6}},
                 "color": {"field": "g", "type": "nominal", "scale": {"domain": ["E2F4>0 (n=151)", "E2F4<0 (n=109)"], "range": ["#ff0000", "#22dd22"]},
                           "legend": {"orient": "none", "legendX": 15, "legendY": 177, "title": null, "symbolType": "stroke", "symbolSize": 1024, "symbolStrokeWidth": 1.5, "labelFontSize": 17, "labelOffset": 17, "rowPadding": 0, "clipHeight": 22, "padding": 0, "labelLimit": 0}}}},
              {"data": {"name": "censC"}, "mark": {"type": "point", "shape": "M-1,0H1M0,-1V1", "filled": false, "size": 90, "strokeWidth": 1.2, "opacity": 1},
               "encoding": {"x": {"field": "t", "type": "quantitative"}, "y": {"field": "s", "type": "quantitative"},
                 "stroke": {"field": "g", "type": "nominal", "scale": {"domain": ["E2F4>0 (n=151)", "E2F4<0 (n=109)"], "range": ["#ff0000", "#22dd22"]}, "legend": null}}},
              {"data": {"values": [{}]}, "mark": {"type": "text", "align": "right", "baseline": "alphabetic", "fontSize": 19},
               "encoding": {"x": {"datum": 18.25}, "y": {"datum": 0.948}, "text": {"value": "P=4e-7"}}}
            ]
          },
          {
            "width": 309, "height": 218,
            "title": {"text": "(d)", "anchor": "start", "frame": "group", "dx": -67, "offset": -24, "fontSize": 27, "fontWeight": "bold", "baseline": "alphabetic"},
            "layer": [
              {"data": {"name": "kmD"}, "mark": {"type": "line", "strokeWidth": 1.6, "interpolate": "step-after"},
               "encoding": {
                 "x": {"field": "t", "type": "quantitative", "scale": {"domain": [0, 19.07], "nice": false, "zero": false},
                       "axis": {"values": [0, 5, 10, 15], "title": "Survival time (years)", "labelFontSize": 16, "tickSize": 7, "labelPadding": 5, "titleFontSize": 19, "titlePadding": 6, "minExtent": 28, "maxExtent": 28}},
                 "y": {"field": "s", "type": "quantitative", "scale": {"domain": [-0.04, 1.04], "nice": false, "zero": false},
                       "axis": {"values": [0, 0.2, 0.4, 0.6, 0.8, 1.0], "labelExpr": "round(datum.value*10) % 4 === 0 ? format(datum.value, '.1f') : ''", "title": "Probability of survival", "titleFontSize": 19, "titleX": -34, "titleAngle": 270, "titleAlign": "center", "titleBaseline": "bottom", "labelAngle": 270, "labelAlign": "center", "labelBaseline": "bottom", "labelFontSize": 16, "labelPadding": 2, "tickSize": 6}},
                 "color": {"field": "g", "type": "nominal", "scale": {"domain": ["ER+ & E2F4>0 (n=104)", "ER+ & E2F4<0 (n=47)", "ER− & E2F4>0 (n=98)", "ER− & E2F4<0 (n=11)"], "range": ["#ff0000", "#22cc22", "#ff0000", "#22cc22"]},
                           "legend": {"orient": "none", "legendX": 11, "legendY": 138, "title": null, "symbolType": "stroke", "symbolSize": 625, "symbolStrokeWidth": 1.6, "labelFontSize": 13, "labelOffset": 12, "rowPadding": 0, "clipHeight": 15, "padding": 0, "labelLimit": 0}},
                 "strokeDash": {"field": "g", "type": "nominal", "scale": {"domain": ["ER+ & E2F4>0 (n=104)", "ER+ & E2F4<0 (n=47)", "ER− & E2F4>0 (n=98)", "ER− & E2F4<0 (n=11)"], "range": [[1, 0], [1, 0], [5, 3], [5, 3]]},
                           "legend": {"orient": "none", "legendX": 11, "legendY": 138, "title": null, "symbolType": "stroke", "symbolSize": 625, "symbolStrokeWidth": 1.6, "labelFontSize": 13, "labelOffset": 12, "rowPadding": 0, "clipHeight": 15, "padding": 0, "labelLimit": 0}}}},
              {"data": {"values": [{}]}, "mark": {"type": "rule", "color": "#000", "strokeWidth": 1}, "encoding": {"x": {"datum": 14.98}, "y": {"datum": 0.234}, "y2": {"datum": 0.32}}},
              {"data": {"values": [{}]}, "mark": {"type": "rule", "color": "#000", "strokeWidth": 1}, "encoding": {"x": {"datum": 14.8}, "x2": {"datum": 14.98}, "y": {"datum": 0.32}}},
              {"data": {"values": [{}]}, "mark": {"type": "rule", "color": "#000", "strokeWidth": 1}, "encoding": {"x": {"datum": 14.8}, "x2": {"datum": 14.98}, "y": {"datum": 0.234}}},
              {"data": {"values": [{}]}, "mark": {"type": "rule", "color": "#000", "strokeWidth": 1}, "encoding": {"x": {"datum": 14.98}, "y": {"datum": 0.08}, "y2": {"datum": 0.168}}},
              {"data": {"values": [{}]}, "mark": {"type": "rule", "color": "#000", "strokeWidth": 1}, "encoding": {"x": {"datum": 14.8}, "x2": {"datum": 14.98}, "y": {"datum": 0.168}}},
              {"data": {"values": [{}]}, "mark": {"type": "rule", "color": "#000", "strokeWidth": 1}, "encoding": {"x": {"datum": 14.8}, "x2": {"datum": 14.98}, "y": {"datum": 0.08}}},
              {"data": {"values": [{}]}, "mark": {"type": "text", "align": "left", "baseline": "alphabetic", "fontSize": 13}, "encoding": {"x": {"datum": 15.29}, "y": {"datum": 0.262}, "text": {"value": "P=1e−5"}}},
              {"data": {"values": [{}]}, "mark": {"type": "text", "align": "left", "baseline": "alphabetic", "fontSize": 13}, "encoding": {"x": {"datum": 15.29}, "y": {"datum": 0.11}, "text": {"value": "P=0.21"}}}
            ]
          }
        ]
      }
    ]
  }
]
}
